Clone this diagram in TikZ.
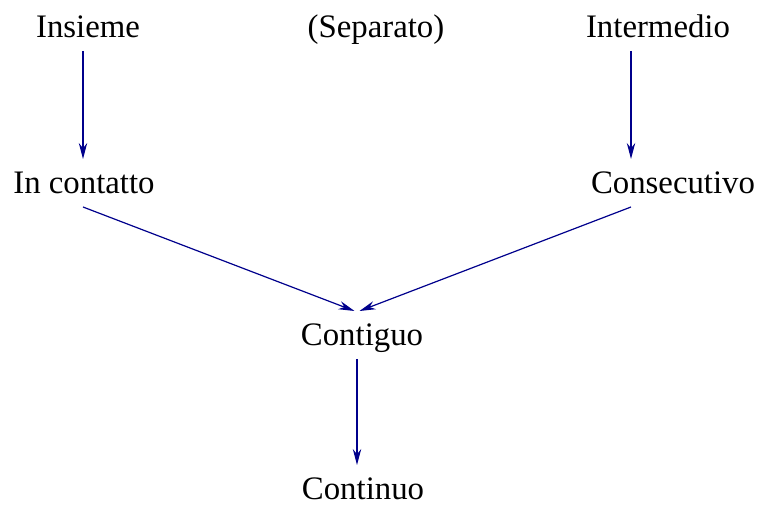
\documentclass[tikz,border=0pt]{standalone}
\usepackage{fontspec}
\setmainfont{Liberation Serif}
\usetikzlibrary{arrows.meta,calc}
\definecolor{arrowblue}{rgb}{0,0,0.55}
\begin{document}
\begin{tikzpicture}[x=0.5pt,y=-0.5pt,
  lbl/.style={anchor=base,inner sep=0pt,outer xsep=0pt,outer ysep=6.5pt,
    text height=11pt,text depth=0pt,font=\fontsize{16.4}{19}\selectfont},
  conn/.style={draw=arrowblue,line width=0.6pt,
    -{Stealth[length=8pt,width=4.2pt,inset=2.6pt,fill=arrowblue]}}]
\useasboundingbox (0,0) rectangle (758,506);
\coordinate (colA) at (83,0);
\coordinate (colB) at (631,0);
\coordinate (colC) at (357,0);
\node[lbl] (insieme) at (88,38) {Insieme};
\node[lbl] (separato) at (376,38) {(Separato)};
\node[lbl] (intermedio) at (658,38) {Intermedio};
\node[lbl] (contatto) at (84,194) {In contatto};
\node[lbl] (consecutivo) at (673,194) {Consecutivo};
\node[lbl] (contiguo) at (362,346) {Contiguo};
\node[lbl] (continuo) at (363,499) {Continuo};
\draw[conn] (insieme.south -| colA) -- (contatto.north -| colA);
\draw[conn] (intermedio.south -| colB) -- (consecutivo.north -| colB);
\draw[conn] (contatto.south -| colA) -- ($(contiguo.north -| colC)+(-2.5,0)$);
\draw[conn] (consecutivo.south -| colB) -- ($(contiguo.north -| colC)+(2.5,0)$);
\draw[conn] (contiguo.south -| colC) -- ($(continuo.north -| colC)+(0,1)$);
\end{tikzpicture}
\end{document}
